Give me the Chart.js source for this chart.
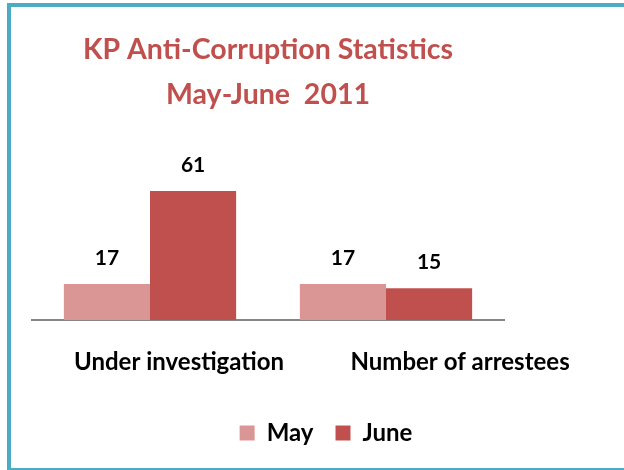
<!DOCTYPE html>
<html>
<head>
<meta charset="utf-8">
<script src="https://cdn.jsdelivr.net/npm/chart.js@4.4.0/dist/chart.umd.min.js"></script>
<style>
  html, body { margin: 0; padding: 0; background: #fff; overflow: hidden; }
  #chart { display: block; }
</style>
</head>
<body>
<canvas id="chart" width="624" height="470"></canvas>
<script>
// data
const categories = ["Under investigation", "Number of arrestees"];
const seriesNames = ["May", "June"];
const mayValues = [17, 17];
const juneValues = [61, 15];

// where the category names sit along the bottom (0..2 over the plot width)
const labelSpots = [0.623, 1.814];

Chart.defaults.font.family = "Lato, 'Open Sans', sans-serif";

// teal frame on the left, top and bottom (the right edge is cut off)
const frame = {
  id: "frame",
  beforeDraw(chart) {
    const ctx = chart.ctx;
    ctx.save();
    ctx.fillStyle = "#4bacc6";
    ctx.fillRect(7, 3, chart.width - 7, 4);
    ctx.fillRect(7, 3, 4, chart.height - 3);
    ctx.fillRect(7, chart.height - 2, chart.width - 7, 2);
    ctx.restore();
  }
};

// numbers above bars
const valueLabels = {
  id: "valueLabels",
  afterDatasetsDraw(chart) {
    const ctx = chart.ctx;
    ctx.save();
    ctx.font = "bold 21px Lato, 'Open Sans', sans-serif";
    ctx.fillStyle = "#000";
    ctx.textAlign = "center";
    ctx.textBaseline = "middle";
    chart.data.datasets.forEach((ds, i) => {
      chart.getDatasetMeta(i).data.forEach((bar, j) => {
        ctx.fillText(ds.data[j], bar.x, bar.y - 26);
      });
    });
    ctx.restore();
  }
};

new Chart(document.getElementById("chart"), {
  type: "bar",
  data: {
    labels: categories,
    datasets: [
      { label: seriesNames[0], data: mayValues, backgroundColor: "#d99694" },
      { label: seriesNames[1], data: juneValues, backgroundColor: "#c0504d" }
    ]
  },
  options: {
    responsive: false,
    animation: false,
    categoryPercentage: 0.73,
    barPercentage: 1,
    layout: { padding: { left: 32, right: 4, top: 0, bottom: 15 } },
    plugins: {
      title: {
        display: true,
        fullSize: false,
        text: ["KP Anti-Corruption Statistics", "May-June  2011"],
        color: "#c0504d",
        font: { size: 28.5, weight: "bold", lineHeight: 1.56 },
        padding: { top: 28, bottom: 34 }
      },
      legend: {
        position: "bottom",
        fullSize: true,
        labels: {
          boxWidth: 15,
          boxHeight: 15,
          padding: 22,
          color: "#000",
          font: { size: 24, weight: "bold" }
        }
      },
      tooltip: { enabled: false }
    },
    scales: {
      x: {
        weight: 0,
        ticks: { display: false },
        grid: { display: false, drawTicks: false },
        border: { display: true, color: "#868686", width: 2 }
      },
      xl: {
        type: "linear",
        position: "bottom",
        weight: 1,
        offset: false,
        min: 0,
        max: 2,
        afterBuildTicks: (scale) => {
          scale.ticks = labelSpots.map((v) => ({ value: v }));
        },
        afterFit: (scale) => {
          scale.height = 79;
          scale.paddingLeft = 0;
          scale.paddingRight = 0;
        },
        ticks: {
          autoSkip: false,
          maxRotation: 0,
          padding: 28,
          color: "#000",
          font: { size: 24, weight: "bold" },
          callback: (value, index) => categories[index]
        },
        grid: { display: false, drawTicks: false, offset: false },
        border: { display: false }
      },
      y: {
        position: "right",
        min: 0,
        max: 80,
        afterFit: (scale) => { scale.width = 116; },
        ticks: { display: false },
        grid: { display: false, drawTicks: false },
        border: { display: false }
      }
    }
  },
  plugins: [frame, valueLabels]
});
</script>
</body>
</html>
